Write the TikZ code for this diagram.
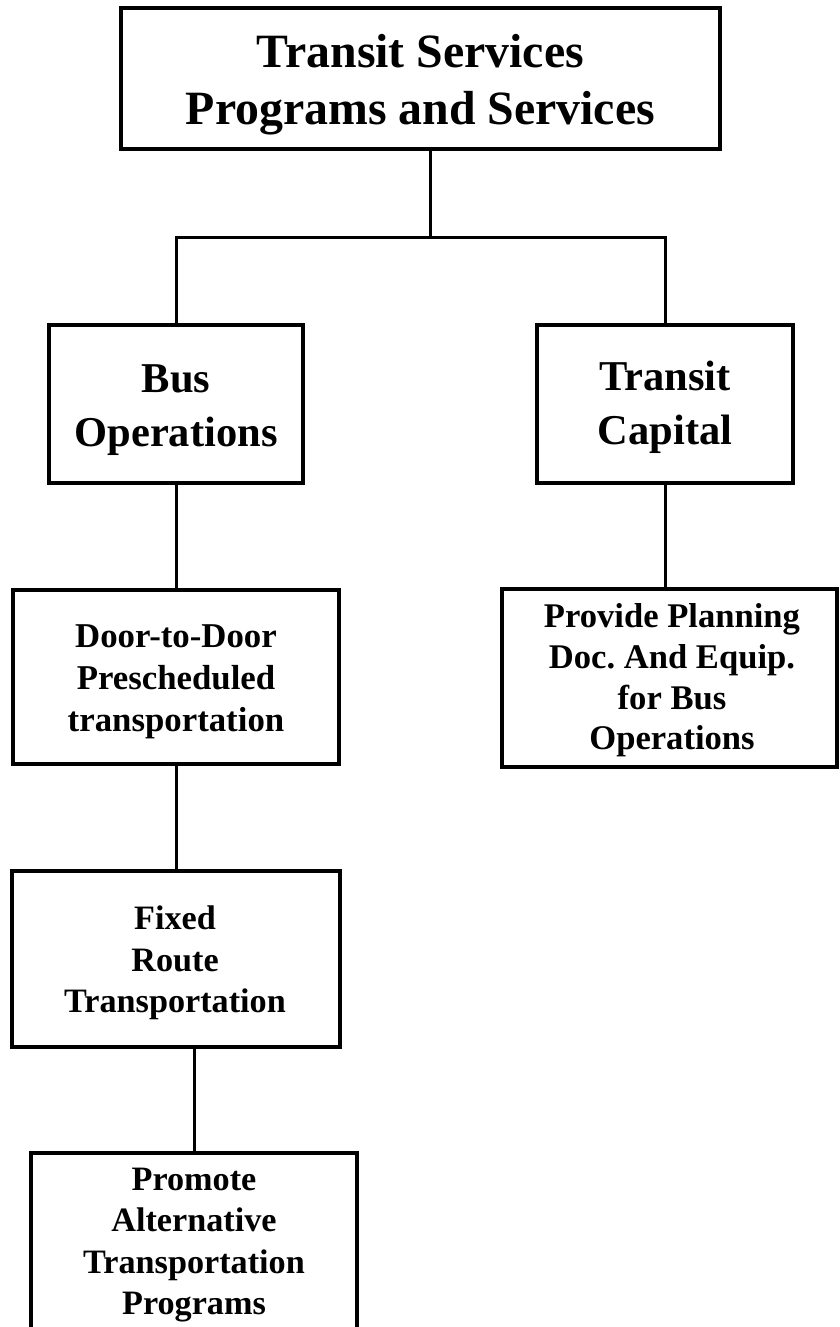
\documentclass[tikz,border=0pt]{standalone}
\usepackage{fontspec}
\setmainfont{Liberation Serif}
\frenchspacing
\begin{document}
\begin{tikzpicture}[x=1pt,y=-1pt,
  box/.style={draw=black,line width=4pt,inner sep=0pt,fill=white},
  conn/.style={draw=black,line width=3pt},
  lbl/.style={inner sep=0pt,align=center,text=black}]
\useasboundingbox[fill=white] (0,0) rectangle (839,1327);
% boxes
\node[box,minimum width=599pt,minimum height=141pt] (top) at (420.5,78.5) {};
\node[box,minimum width=254pt,minimum height=158pt] (bus) at (176,404) {};
\node[box,minimum width=256pt,minimum height=158pt] (tc) at (665,404) {};
\node[box,minimum width=326pt,minimum height=174pt] (door) at (176,677) {};
\node[box,minimum width=335pt,minimum height=178pt] (prov) at (669.5,678) {};
\node[box,minimum width=328pt,minimum height=176pt] (fixed) at (176,959) {};
\node[box,minimum width=326pt,minimum height=182pt] (prom) at (194,1244) {};
% labels
\node[lbl,font=\bfseries\fontsize{47.8pt}{57pt}\selectfont] (ttop) at (420.5,85) {Transit Services\\Programs and Services};
\node[lbl,font=\bfseries\fontsize{42.5pt}{54pt}\selectfont] (tbus) at (176,410.4) {Bus\\Operations};
\node[lbl,font=\bfseries\fontsize{42.5pt}{54pt}\selectfont] (ttc) at (665,407.6) {Transit\\Capital};
\node[lbl,font=\bfseries\fontsize{34.8pt}{42pt}\selectfont] (tdoor) at (176,682) {Door-to-Door\\Prescheduled\\transportation};
\node[lbl,font=\bfseries\fontsize{34.6pt}{40.7pt}\selectfont] (tprov) at (672,680.6) {Provide Planning\\Doc. And Equip.\\for Bus\\Operations};
\node[lbl,font=\bfseries\fontsize{34.2pt}{41.5pt}\selectfont] (tfixed) at (175,963.2) {Fixed\\Route\\Transportation};
\node[lbl,font=\bfseries\fontsize{34.2pt}{41.3pt}\selectfont] (tprom) at (194,1245.2) {Promote\\Alternative\\Transportation\\Programs};
% connectors
\coordinate (j) at (430,237);
\draw[conn] (top.south -| j) -- (j);
\draw[conn] (bus.north) |- (j) -| (tc.north);
\draw[conn] (bus.south) -- (door.north);
\draw[conn] (tc.south) -- (tc.south |- prov.north);
\draw[conn] (door.south) -- (fixed.north);
\draw[conn] (prom.north |- fixed.south) -- (prom.north);
\end{tikzpicture}
\end{document}
